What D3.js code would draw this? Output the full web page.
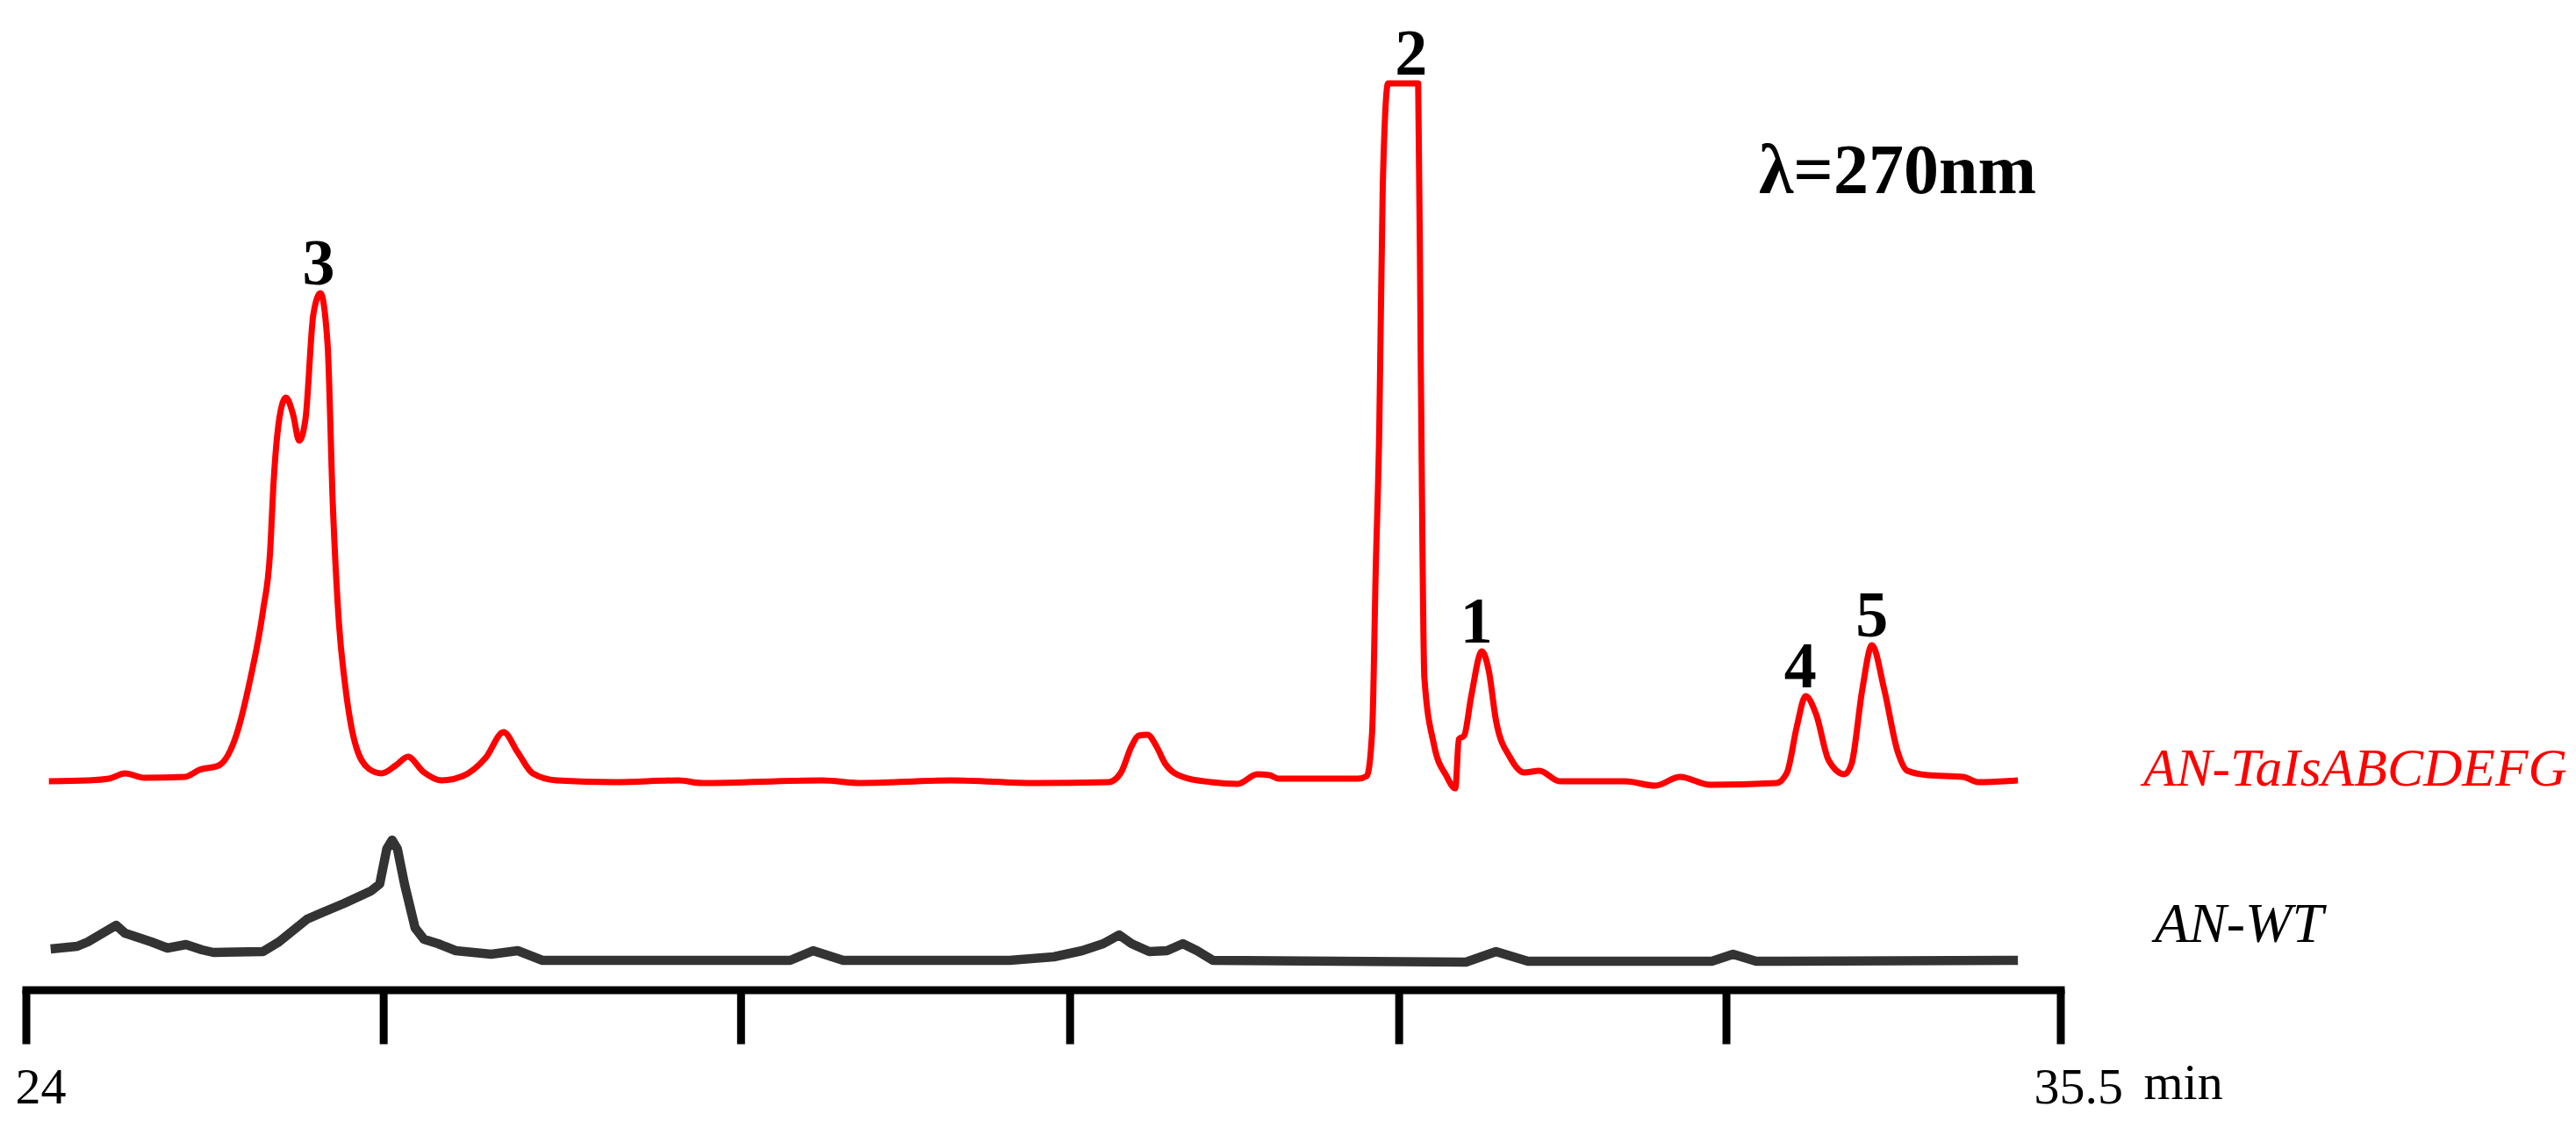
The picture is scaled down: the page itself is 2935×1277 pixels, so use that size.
<!DOCTYPE html>
<html>
<head>
<meta charset="utf-8">
<script src="https://cdn.jsdelivr.net/npm/d3@7"></script>
<style>
  html, body { margin: 0; padding: 0; background: #ffffff; }
  svg { display: block; }
</style>
</head>
<body>
<svg id="chart" width="2935" height="1277"></svg>
<script>
// ---------- data (retention time in min, signal in a.u.; traces already offset) ----------
const redTimes = [24.13, 24.35, 24.47, 24.56, 24.67, 24.90, 24.98, 25.09, 25.18, 25.27, 25.34, 25.38, 25.40, 25.44, 25.47, 25.51, 25.545, 25.58, 25.625, 25.665, 25.705, 25.735, 25.77, 25.805, 25.86, 25.94, 26.01, 26.09, 26.16, 26.245, 26.35, 26.47, 26.60, 26.70, 26.78, 26.865, 27.00, 27.33, 27.69, 27.82, 28.50, 28.72, 29.23, 29.71, 30.12, 30.19, 30.25, 30.29, 30.34, 30.39, 30.44, 30.54, 30.70, 30.85, 30.96, 31.03, 31.08, 31.53, 31.58, 31.61, 31.63, 31.65, 31.67, 31.70, 31.87, 31.885, 31.905, 31.96, 32.03, 32.08, 32.10, 32.13, 32.17, 32.23, 32.27, 32.31, 32.39, 32.47, 32.555, 32.67, 33.04, 33.21, 33.35, 33.52, 33.895, 33.955, 34.01, 34.06, 34.12, 34.19, 34.28, 34.32, 34.38, 34.435, 34.505, 34.58, 34.635, 34.75, 34.95, 35.035, 35.26];
const redValues = [23.5, 23.6, 23.8, 24.4, 23.9, 24.0, 24.8, 25.3, 28.2, 35.3, 42.9, 49.5, 57.5, 65.7, 67.2, 65.3, 62.3, 64.7, 76.7, 79.1, 73.4, 55.0, 41.4, 34.4, 27.9, 24.9, 24.4, 25.3, 26.3, 24.6, 23.6, 24.1, 26.2, 29.1, 26.8, 24.4, 23.6, 23.4, 23.6, 23.3, 23.6, 23.3, 23.6, 23.3, 23.4, 24.5, 27.5, 28.7, 28.8, 27.5, 25.5, 24.0, 23.4, 23.2, 24.3, 24.2, 23.8, 23.8, 24.1, 29.2, 47.5, 63.4, 91.5, 103.0, 103.0, 70.4, 35.3, 27.6, 24.1, 22.7, 28.3, 28.7, 33.2, 38.3, 36.0, 30.4, 26.2, 24.5, 24.7, 23.5, 23.5, 23.0, 24.0, 23.1, 23.3, 24.5, 29.7, 33.2, 31.1, 25.9, 24.3, 25.5, 33.9, 39.0, 33.9, 26.9, 24.7, 24.2, 24.0, 23.4, 23.6];

const blackTimes = [24.14, 24.29, 24.35, 24.51, 24.56, 24.71, 24.80, 24.905, 24.995, 25.06, 25.34, 25.43, 25.59, 25.67, 25.80, 25.95, 26.00, 26.04, 26.07, 26.10, 26.14, 26.20, 26.25, 26.33, 26.43, 26.63, 26.78, 26.92, 28.32, 28.45, 28.62, 29.56, 29.81, 29.97, 30.09, 30.18, 30.25, 30.35, 30.45, 30.54, 30.62, 30.71, 32.14, 32.31, 32.49, 33.53, 33.65, 33.78, 35.26];
const blackValues = [4.4, 4.7, 5.2, 7.1, 6.2, 5.2, 4.5, 4.9, 4.3, 4.0, 4.1, 5.2, 7.8, 8.5, 9.6, 11.0, 11.8, 15.8, 16.8, 15.8, 11.8, 6.8, 5.5, 5.0, 4.2, 3.8, 4.2, 3.1, 3.1, 4.2, 3.1, 3.1, 3.5, 4.2, 5.0, 6.0, 5.0, 4.1, 4.2, 5.0, 4.2, 3.1, 2.9, 4.1, 3.0, 3.0, 3.8, 3.0, 3.1];

const peakLabels = ["3", "2", "1", "4", "5"];
const peakLabelTimes = [25.655, 31.83, 32.20, 34.03, 34.435];
const peakLabelValues = [79.1, 103.0, 38.3, 33.2, 39.0];

const seriesNames = ["AN-TaIsABCDEFG", "AN-WT"];
const tickValues = [24, 26.02, 28.04, 29.90, 31.76, 33.61, 35.5];
const tickLabels = ["24", "35.5"];
const axisUnit = "min";
const wavelengthNote = "λ=270nm";

// ---------- scales ----------
const svg = d3.select("#chart");
svg.append("rect").attr("width", 2935).attr("height", 1277).attr("fill", "#fff");

const x = d3.scaleLinear().domain([24, 35.5]).range([29.5, 2347.5]);
const y = d3.scaleLinear().domain([0, 110]).range([1125, 25]);

// ---------- axis ----------
const axisG = svg.append("g").attr("transform", "translate(0,1127.5)");
axisG.call(d3.axisBottom(x).tickValues(tickValues).tickSize(62).tickSizeOuter(0).tickFormat(""));
axisG.select(".domain").attr("stroke", "#000").attr("stroke-width", 9).attr("stroke-linecap", "square");
axisG.selectAll(".tick line").attr("stroke", "#000").attr("stroke-width", 9);

const serif = "'Liberation Serif', 'Times New Roman', serif";
svg.append("text").attr("x", x(24) - 12).attr("y", 1257)
  .attr("font-family", serif).attr("font-size", 58).attr("fill", "#000").text(tickLabels[0]);
svg.append("text").attr("x", x(35.5) - 30).attr("y", 1257)
  .attr("font-family", serif).attr("font-size", 58).attr("fill", "#000").text(tickLabels[1]);
svg.append("text").attr("x", x(35.5) + 95).attr("y", 1252)
  .attr("font-family", serif).attr("font-size", 58).attr("fill", "#000").text(axisUnit);

// ---------- traces ----------
const redData = redTimes.map((t, i) => [t, redValues[i]]);
const blackData = blackTimes.map((t, i) => [t, blackValues[i]]);

const lineSmooth = d3.line().x(d => x(d[0])).y(d => y(d[1])).curve(d3.curveMonotoneX);
const lineLin = d3.line().x(d => x(d[0])).y(d => y(d[1])).curve(d3.curveLinear);

svg.append("path").datum(blackData).attr("d", lineLin)
  .attr("fill", "none").attr("stroke", "#333333").attr("stroke-width", 10.5)
  .attr("stroke-linejoin", "round").attr("stroke-linecap", "butt");

svg.append("path").datum(redData).attr("d", lineSmooth)
  .attr("fill", "none").attr("stroke", "#ff0000").attr("stroke-width", 7)
  .attr("stroke-linejoin", "round").attr("stroke-linecap", "butt");

// ---------- peak labels ----------
svg.selectAll(".peak").data(peakLabels).enter().append("text")
  .attr("class", "peak")
  .attr("x", (d, i) => x(peakLabelTimes[i]))
  .attr("y", (d, i) => y(peakLabelValues[i]) - 10)
  .attr("text-anchor", "middle")
  .attr("font-family", serif).attr("font-weight", "bold").attr("font-size", 74)
  .attr("fill", "#000").text(d => d);

// ---------- annotation & series names ----------
svg.append("text").attr("x", 2004).attr("y", 220)
  .attr("font-family", serif).attr("font-weight", "bold").attr("font-size", 80)
  .attr("fill", "#000").text(wavelengthNote);

svg.append("text").attr("x", 2442).attr("y", 895)
  .attr("font-family", serif).attr("font-style", "italic").attr("font-size", 61.5)
  .attr("fill", "#ff0000").text(seriesNames[0]);
svg.append("text").attr("x", 2455).attr("y", 1073)
  .attr("font-family", serif).attr("font-style", "italic").attr("font-size", 64)
  .attr("fill", "#000").text(seriesNames[1]);
</script>
</body>
</html>
